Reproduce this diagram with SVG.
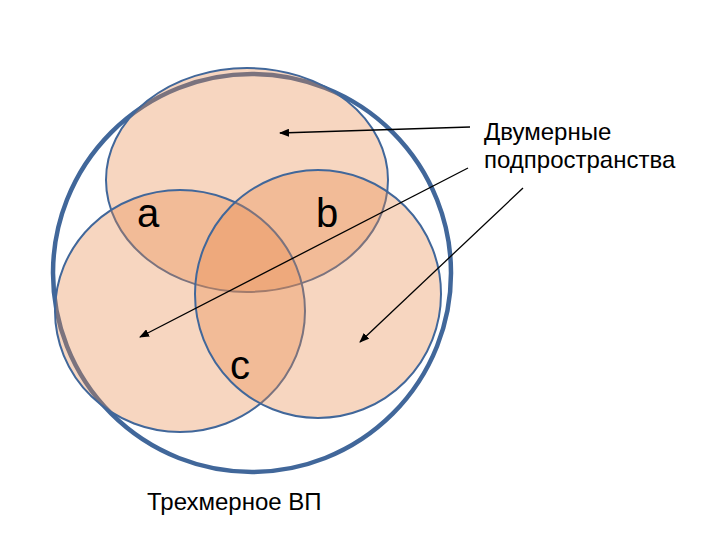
<svg xmlns="http://www.w3.org/2000/svg" width="720" height="540" viewBox="0 0 720 540">
<style>
.s{fill:#e8894a;fill-opacity:0.35;stroke:#41679a;stroke-width:2}
.t{font-family:"Liberation Sans",Arial,sans-serif;fill:#000}
.c{stroke:#000;stroke-width:1.3;fill:none;marker-end:url(#ah)}
</style>
<defs><marker id="ah" markerWidth="10" markerHeight="8" refX="9" refY="4" orient="auto" markerUnits="userSpaceOnUse"><path d="M0,0L10,4L0,8z" fill="#000"/></marker></defs>
<rect width="720" height="540" fill="#fff"/>
<g id="outer"><ellipse cx="252" cy="273" rx="199" ry="199" fill="none" stroke="#41679a" stroke-width="4.5"/></g>
<g id="top"><ellipse class="s" cx="247" cy="180" rx="141" ry="112"/></g>
<g id="left"><ellipse class="s" cx="180" cy="311" rx="125" ry="121"/></g>
<g id="right"><ellipse class="s" cx="318" cy="294" rx="123" ry="124"/></g>
<g id="labels">
<text class="t" x="137" y="227" font-size="40">a</text>
<text class="t" x="316" y="227" font-size="40">b</text>
<text class="t" x="230" y="379" font-size="40">c</text>
<text class="t" x="484" y="140" font-size="24">Двумерные</text>
<text class="t" x="484" y="168" font-size="24">подпространства</text>
<text class="t" x="147" y="510" font-size="24">Трехмерное ВП</text>
</g>
<g id="connectors">
<line class="c" x1="470" y1="127" x2="280" y2="133"/>
<line class="c" x1="468" y1="168" x2="140" y2="337"/>
<line class="c" x1="523" y1="188" x2="360" y2="342"/>
</g>
</svg>
